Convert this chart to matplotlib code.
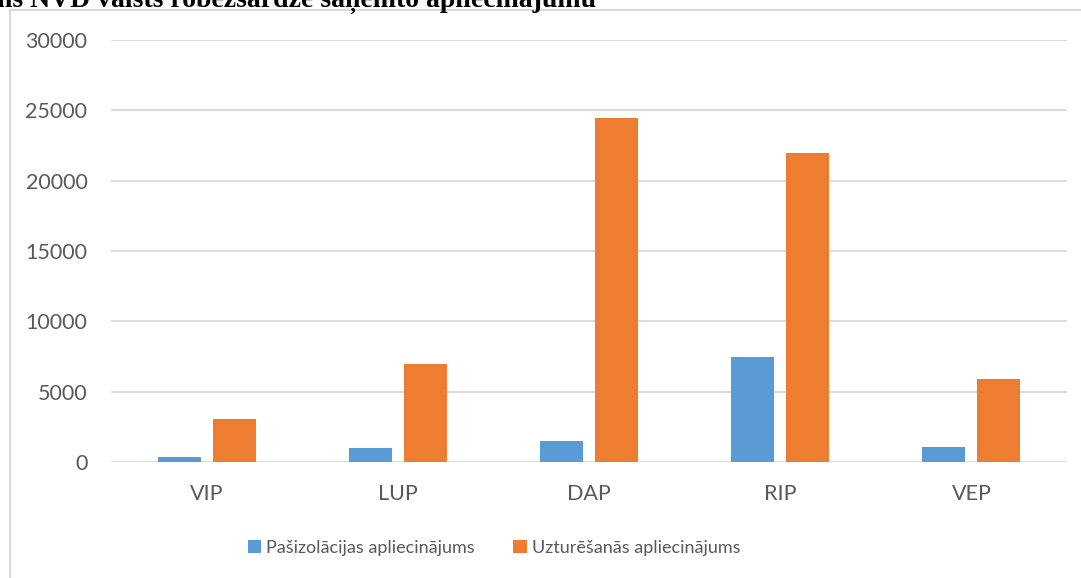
import numpy as np
import matplotlib.pyplot as plt
from matplotlib.patches import Rectangle

# data
categories = ["VIP", "LUP", "DAP", "RIP", "VEP"]
self_isolation = [380, 1000, 1500, 7450, 1080]
maintenance = [3030, 7000, 24450, 22000, 5900]
series_names = ["Pašizolācijas apliecinājums", "Uzturēšanās apliecinājums"]
yticks = [0, 5000, 10000, 15000, 20000, 25000, 30000]

blue = "#5b9bd5"
orange = "#ed7d31"
grey_text = "#595959"

plt.rcParams['font.family'] = ['Lato', 'DejaVu Sans']

fig = plt.figure(figsize=(10.81, 5.78), dpi=100)
ax = fig.add_axes([111 / 1081, 1 - 462 / 578, (1067 - 111) / 1081, (462 - 40) / 578])

x = np.arange(len(categories))
width = 0.225
offset = 0.144
ax.bar(x - offset, self_isolation, width, color=blue, label=series_names[0], zorder=3)
ax.bar(x + offset, maintenance, width, color=orange, label=series_names[1], zorder=3)

ax.set_xlim(-0.5, len(categories) - 0.5)
ax.set_ylim(0, 30000)
ax.set_yticks(yticks)
ax.set_xticks(x)
ax.set_xticklabels(categories)
ax.grid(axis='y', color="#d9d9d9", linewidth=1.3, zorder=0)
ax.set_axisbelow(True)
for s in ax.spines.values():
    s.set_visible(False)
ax.tick_params(axis='both', length=0, labelsize=15.5, labelcolor=grey_text)
ax.tick_params(axis='y', pad=17)
ax.tick_params(axis='x', pad=16)

leg = fig.legend(loc='center', bbox_to_anchor=(494 / 1081, 1 - 548 / 578), ncol=2,
                 frameon=False, fontsize=13, handlelength=0.75, handleheight=0.75,
                 handletextpad=0.3, columnspacing=2.1)
for t in leg.get_texts():
    t.set_color(grey_text)

# chart frame (clipped by the page at right and bottom)
fig.patches.append(Rectangle((10 / 1081, -0.1), 1.2, 1 - 10 / 578 + 0.1,
                             transform=fig.transFigure, fill=False,
                             edgecolor="#d9d9d9", linewidth=1.5))

# partially cut-off document caption above the chart
fig.text(-0.003, 1 - 7 / 578, "ns NVD valsts robežsardze saņēmto apliecinājumu",
         family=['Liberation Serif', 'DejaVu Serif'], fontsize=20, fontweight='bold',
         va='baseline', ha='left', color='black')

fig.savefig("out.png", dpi=100)
